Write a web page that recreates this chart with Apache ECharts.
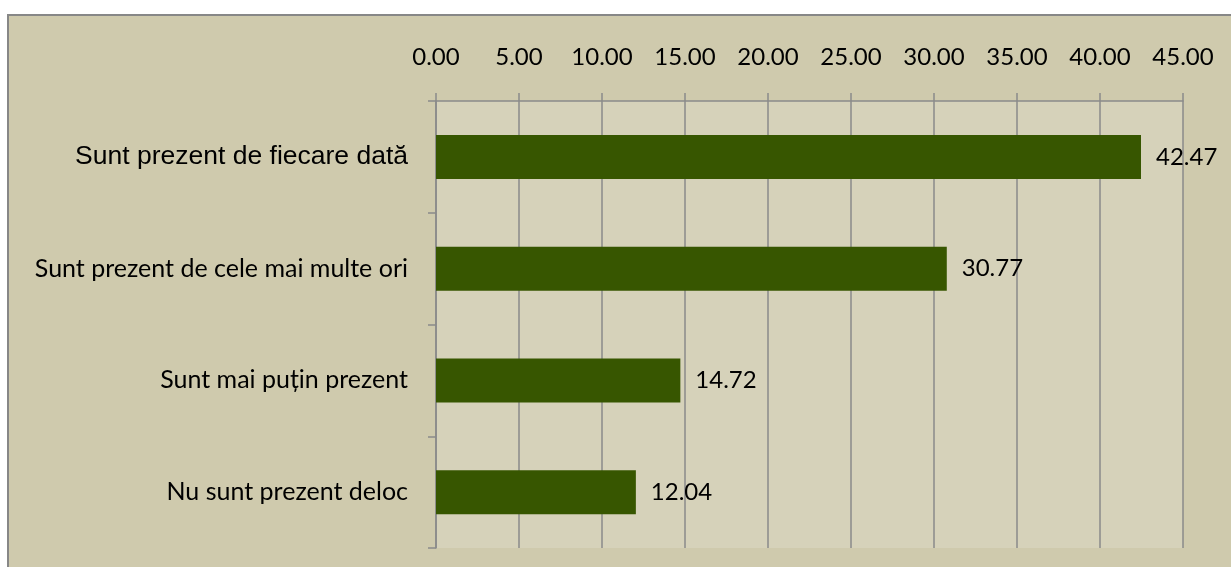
<!DOCTYPE html>
<html>
<head>
<meta charset="utf-8">
<script src="https://cdn.jsdelivr.net/npm/echarts@6/dist/echarts.min.js"></script>
<style>
  html, body { margin: 0; padding: 0; background: #fff; }
  #main { width: 1231px; height: 567px; }
</style>
</head>
<body>
<div id="main"></div>
<script>
// categories top to bottom
var categories = ['Sunt prezent de fiecare dată', 'Sunt prezent de cele mai multe ori', 'Sunt mai puțin prezent', 'Nu sunt prezent deloc'];
var values = [42.47, 30.77, 14.72, 12.04];
var axisMax = 45;
var axisStep = 5;

var myChart = echarts.init(document.getElementById('main'));
var option = {
  backgroundColor: '#ffffff',
  animation: false,
  graphic: [{
    type: 'rect',
    z: -10,
    shape: { x: 8, y: 15, width: 1300, height: 620 },
    style: { fill: '#CFCAAD', stroke: '#878787', lineWidth: 2 }
  }],
  grid: {
    left: 436, top: 101, right: 48, bottom: 19,
    show: true, backgroundColor: '#D6D2BA', borderWidth: 0
  },
  xAxis: {
    type: 'value',
    position: 'top',
    min: 0, max: axisMax, interval: axisStep,
    axisLine: { show: true, lineStyle: { color: '#8a8a8a', width: 1.5 } },
    axisTick: { show: true, length: 8, lineStyle: { color: '#8a8a8a', width: 1.5 } },
    axisLabel: {
      margin: 32,
      fontFamily: 'Lato', fontSize: 24, color: '#000',
      formatter: function (v) { return v.toFixed(2); }
    },
    splitLine: { show: true, lineStyle: { color: '#8a8a8a', width: 1.5 } }
  },
  yAxis: {
    type: 'category',
    inverse: true,
    data: categories,
    axisLine: { show: true, lineStyle: { color: '#8a8a8a', width: 1.5 } },
    axisTick: { show: true, length: 8, lineStyle: { color: '#8a8a8a', width: 1.5 } },
    axisLabel: {
      margin: 28,
      color: '#000',
      formatter: function (v, i) { return i === 0 ? '{big|' + v + '}' : '{n|' + v + '}'; },
      rich: {
        big: { fontFamily: 'Liberation Sans', fontSize: 26.5, color: '#000' },
        n: { fontFamily: 'Lato', fontSize: 25, color: '#000' }
      }
    }
  },
  series: [{
    type: 'bar',
    data: values,
    barWidth: 44,
    itemStyle: { color: '#375600' },
    label: {
      show: true, position: 'right', distance: 15,
      fontFamily: 'Lato', fontSize: 24, color: '#000',
      formatter: function (p) { return p.value.toFixed(2); }
    }
  }]
};
myChart.setOption(option);
</script>
</body>
</html>
